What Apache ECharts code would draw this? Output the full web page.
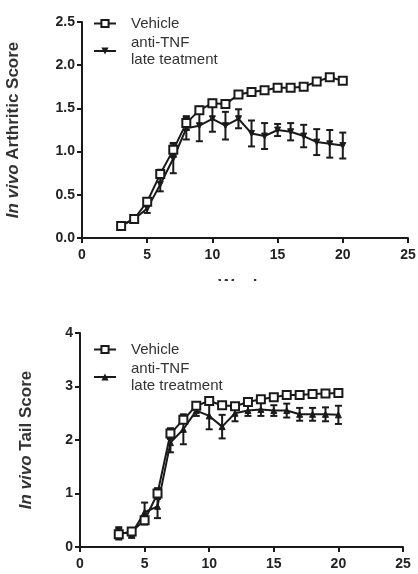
<!DOCTYPE html>
<html>
<head>
<meta charset="utf-8">
<script src="https://cdn.jsdelivr.net/npm/echarts@6/dist/echarts.min.js"></script>
<style>
  html, body { margin: 0; padding: 0; background: #fff; }
  #arthritis { width: 418px; height: 281px; }
  #tail { width: 418px; height: 293px; }
</style>
</head>
<body>
<div id="arthritis"></div>
<div id="tail"></div>
<script>
// weeks
var weeks = [3, 4, 5, 6, 7, 8, 9, 10, 11, 12, 13, 14, 15, 16, 17, 18, 19, 20];

// arthritic score
var arthVehicle    = [0.14, 0.22, 0.42, 0.74, 1.02, 1.33, 1.48, 1.56, 1.55, 1.66, 1.69, 1.71, 1.74, 1.74, 1.75, 1.81, 1.86, 1.82];
var arthVehicleErr = [0.03, 0.03, 0.04, 0.05, 0.08, 0.08, 0.04, 0.04, 0.03, 0.03, 0.03, 0.03, 0.03, 0.03, 0.03, 0.03, 0.03, 0.03];
var arthAnti       = [0.15, 0.22, 0.34, 0.62, 0.92, 1.27, 1.30, 1.38, 1.30, 1.38, 1.21, 1.18, 1.25, 1.23, 1.18, 1.11, 1.09, 1.07];
var arthAntiErr    = [0.03, 0.03, 0.05, 0.08, 0.17, 0.13, 0.18, 0.15, 0.16, 0.11, 0.15, 0.15, 0.07, 0.10, 0.13, 0.15, 0.16, 0.15];

// tail score
var tailVehicle    = [0.24, 0.29, 0.50, 1.00, 2.12, 2.38, 2.64, 2.73, 2.65, 2.63, 2.71, 2.76, 2.80, 2.84, 2.84, 2.86, 2.87, 2.88];
var tailVehicleErr = [0.10, 0.05, 0.08, 0.10, 0.10, 0.06, 0.05, 0.05, 0.05, 0.04, 0.04, 0.04, 0.04, 0.04, 0.04, 0.04, 0.04, 0.04];
var tailAnti       = [0.27, 0.25, 0.65, 0.76, 1.95, 2.20, 2.55, 2.45, 2.25, 2.50, 2.55, 2.57, 2.55, 2.55, 2.48, 2.48, 2.48, 2.47];
var tailAntiErr    = [0.10, 0.08, 0.18, 0.22, 0.18, 0.28, 0.10, 0.25, 0.22, 0.15, 0.10, 0.12, 0.10, 0.13, 0.12, 0.12, 0.13, 0.17];

// tick labels
var xTicks = [0, 5, 10, 15, 20, 25];
var arthTicks = [0, 0.5, 1.0, 1.5, 2.0, 2.5];
var tailTicks = [0, 1, 2, 3, 4];

var INK = '#1a1a1a';
var FONT = 'Liberation Sans, Arial, sans-serif';

function pairs(v) {
    return weeks.map(function (w, i) { return [w, v[i]]; });
}

function errData(v, e) {
    return weeks.map(function (w, i) { return [w, v[i] - e[i], v[i] + e[i]]; });
}

// error bars drawn via custom series
function errSeries(v, e) {
    return {
        type: 'custom',
        z: 1,
        silent: true,
        encode: { x: 0, y: [1, 2] },
        data: errData(v, e),
        renderItem: function (params, api) {
            var lo = api.coord([api.value(0), api.value(1)]);
            var hi = api.coord([api.value(0), api.value(2)]);
            var cap = 3.5;
            var st = { stroke: INK, lineWidth: 2 };
            return {
                type: 'group',
                children: [
                    { type: 'line', shape: { x1: lo[0], y1: lo[1], x2: hi[0], y2: hi[1] }, style: st },
                    { type: 'line', shape: { x1: lo[0] - cap, y1: lo[1], x2: lo[0] + cap, y2: lo[1] }, style: st },
                    { type: 'line', shape: { x1: hi[0] - cap, y1: hi[1], x2: hi[0] + cap, y2: hi[1] }, style: st }
                ]
            };
        }
    };
}

function makeChart(el, cfg) {
    var chart = echarts.init(document.getElementById(el));
    var yTicks = cfg.yTicks;
    chart.setOption({
        animation: false,
        grid: cfg.grid,
        legend: {
            orient: 'vertical',
            left: 93,
            top: cfg.legendTop,
            padding: 0,
            itemWidth: 22,
            itemHeight: 9,
            itemGap: 2,
            data: [cfg.vehName, cfg.antiName],
            textStyle: {
                fontFamily: FONT,
                fontSize: 15,
                color: '#333',
                lineHeight: 17,
                padding: [0, 0, 0, 10]
            }
        },
        xAxis: {
            type: 'value',
            min: xTicks[0],
            max: xTicks[xTicks.length - 1],
            interval: 5,
            name: cfg.xName,
            nameLocation: 'middle',
            nameGap: 40,
            nameTextStyle: { fontFamily: FONT, fontSize: 17, fontWeight: 'bold', color: '#333' },
            splitLine: { show: false },
            axisLine: { lineStyle: { color: INK, width: 2 } },
            axisTick: { length: 5, lineStyle: { color: INK, width: 2 } },
            axisLabel: { fontFamily: FONT, fontSize: 14, fontWeight: 'bold', color: '#222', margin: 10 }
        },
        yAxis: {
            type: 'value',
            min: yTicks[0],
            max: yTicks[yTicks.length - 1],
            interval: yTicks[1] - yTicks[0],
            name: '{i|In vivo} ' + cfg.yName,
            nameLocation: 'middle',
            nameGap: cfg.nameGap,
            nameTextStyle: {
                fontFamily: FONT, fontSize: 17, fontWeight: 'bold', color: '#333',
                rich: { i: { fontFamily: FONT, fontSize: 17, fontWeight: 'bold', fontStyle: 'italic', color: '#333' } }
            },
            splitLine: { show: false },
            axisLine: { lineStyle: { color: INK, width: 2 } },
            axisTick: { length: 5, lineStyle: { color: INK, width: 2 } },
            axisLabel: {
                fontFamily: FONT, fontSize: 14, fontWeight: 'bold', color: '#222', margin: 7,
                formatter: function (v) { return cfg.decimals ? v.toFixed(1) : String(v); }
            }
        },
        series: [
            errSeries(cfg.veh, cfg.vehErr),
            errSeries(cfg.anti, cfg.antiErr),
            {
                name: cfg.antiName,
                type: 'line',
                z: 2,
                data: pairs(cfg.anti),
                symbol: 'triangle',
                symbolSize: 6,
                symbolRotate: cfg.antiRotate,
                itemStyle: { color: INK, borderColor: INK },
                lineStyle: { color: INK, width: 2 }
            },
            {
                name: cfg.vehName,
                type: 'line',
                z: 3,
                data: pairs(cfg.veh),
                symbol: 'rect',
                symbolSize: 8,
                itemStyle: { color: '#fff', borderColor: INK, borderWidth: 2 },
                lineStyle: { color: INK, width: 2 }
            }
        ]
    });
    return chart;
}

makeChart('arthritis', {
    grid: { left: 82, right: 10, top: 22, bottom: 43, outerBoundsMode: 'none' },
    legendTop: 15,
    xName: 'Weeks',
    yName: 'Arthritic Score',
    nameGap: 60,
    yTicks: arthTicks,
    decimals: true,
    veh: arthVehicle, vehErr: arthVehicleErr,
    anti: arthAnti, antiErr: arthAntiErr,
    vehName: 'Vehicle',
    antiName: 'anti-TNF\nlate teatment',
    antiRotate: 180
});

makeChart('tail', {
    grid: { left: 80, right: 15, top: 52, bottom: 27, outerBoundsMode: 'none' },
    legendTop: 60,
    xName: '',
    yName: 'Tail Score',
    nameGap: 45,
    yTicks: tailTicks,
    decimals: false,
    veh: tailVehicle, vehErr: tailVehicleErr,
    anti: tailAnti, antiErr: tailAntiErr,
    vehName: 'Vehicle ',
    antiName: 'anti-TNF\nlate treatment',
    antiRotate: 0
});
</script>
</body>
</html>
